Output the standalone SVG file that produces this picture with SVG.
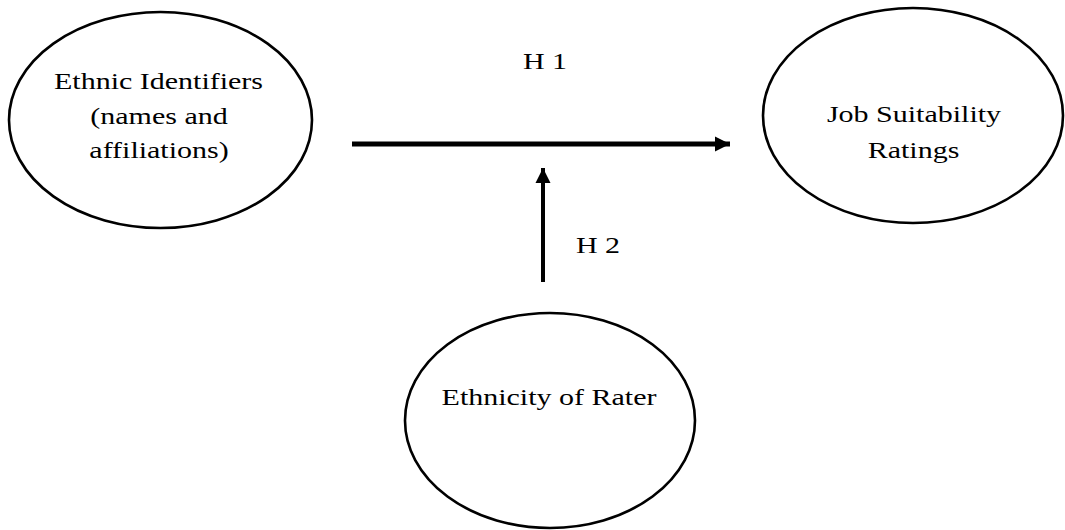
<svg xmlns="http://www.w3.org/2000/svg" width="1065" height="530" viewBox="0 0 1065 530">
<style>
.node{fill:#fff;stroke:#000;stroke-width:2.6}
.t{font-family:"Liberation Serif","Times New Roman",serif;font-size:30px;fill:#000;text-anchor:middle}
.edge{stroke:#000;fill:none}
</style>
<defs>
<marker id="ah" markerUnits="userSpaceOnUse" markerWidth="16" markerHeight="16" refX="15" refY="8" orient="auto">
<path d="M0,0.5 L15,8 L0,15.5 Z" fill="#000"/>
</marker>
</defs>
<rect width="1065" height="530" fill="#fff"/>
<g id="connectors">
<line class="edge" x1="352" y1="144" x2="730" y2="144" stroke-width="5" marker-end="url(#ah)"/>
<line class="edge" x1="543" y1="282" x2="543" y2="168" stroke-width="4" marker-end="url(#ah)"/>
<text class="t" transform="translate(545,69) scale(1,0.8)">H 1</text>
<text class="t" transform="translate(598,253) scale(1,0.8)">H 2</text>
</g>
<g id="ethnic-identifiers">
<ellipse class="node" cx="160.5" cy="120" rx="151.5" ry="108"/>
<text class="t" transform="translate(158.5,89) scale(1,0.8)">Ethnic Identifiers</text>
<text class="t" transform="translate(159,124) scale(1,0.8)">(names and</text>
<text class="t" transform="translate(159,158) scale(1,0.8)">affiliations)</text>
</g>
<g id="job-suitability">
<ellipse class="node" cx="913" cy="115.5" rx="150" ry="107.5"/>
<text class="t" transform="translate(914,122) scale(1,0.8)">Job Suitability</text>
<text class="t" transform="translate(913.5,158) scale(1,0.8)">Ratings</text>
</g>
<g id="ethnicity-of-rater">
<ellipse class="node" cx="550" cy="420.5" rx="145" ry="107.5"/>
<text class="t" transform="translate(549,405) scale(1,0.8)">Ethnicity of Rater</text>
</g>
</svg>
